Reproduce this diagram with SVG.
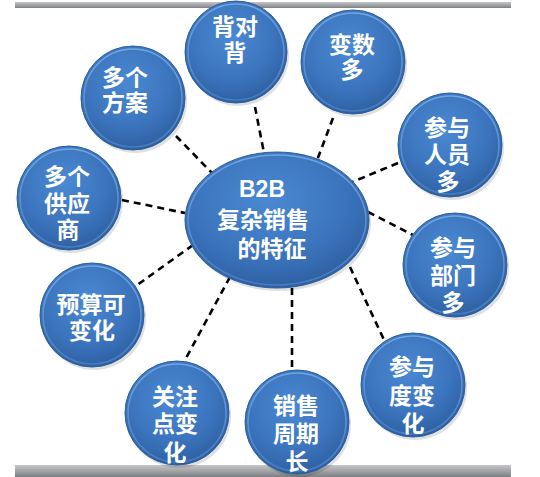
<svg xmlns="http://www.w3.org/2000/svg" width="540" height="477" viewBox="0 0 540 477">
<defs>
<linearGradient id="bar" x1="0" y1="0" x2="0" y2="1">
<stop offset="0" stop-color="#c4c6c8"/>
<stop offset="0.5" stop-color="#a2a4a7"/>
<stop offset="1" stop-color="#7d8083"/>
</linearGradient>
<radialGradient id="ball" cx="0.45" cy="0.35" r="0.7">
<stop offset="0" stop-color="#4a89d2"/>
<stop offset="0.6" stop-color="#3b74bd"/>
<stop offset="1" stop-color="#2b5c9c"/>
</radialGradient>
<linearGradient id="rim" x1="0" y1="0" x2="0" y2="1">
<stop offset="0" stop-color="#7fb0e8"/>
<stop offset="1" stop-color="#4c82c6"/>
</linearGradient>
</defs>
<style>
.ball{fill:url(#ball);stroke:#2d5f9e;stroke-width:1}
.rim{fill:none;stroke:url(#rim);stroke-width:1.6;opacity:0.8}
.sh{fill:#000;opacity:0.12}
.t{font-family:"Noto Sans CJK SC","Liberation Sans",sans-serif;font-weight:bold;font-size:23px;fill:#fff;text-anchor:middle}
.c{stroke:#000;stroke-width:2.6;stroke-dasharray:7 5;fill:none}
</style>
<rect x="15" y="2" width="496" height="6" fill="url(#bar)"/>
<rect x="15" y="465" width="496" height="12" fill="url(#bar)"/>
<g id="connectors">
<line class="c" x1="176" y1="136" x2="212" y2="173"/>
<line class="c" x1="255" y1="107" x2="264" y2="153"/>
<line class="c" x1="333" y1="118" x2="316" y2="163"/>
<line class="c" x1="398" y1="163" x2="350" y2="183"/>
<line class="c" x1="368" y1="212" x2="413" y2="235"/>
<line class="c" x1="350" y1="267" x2="385" y2="342"/>
<line class="c" x1="292" y1="288" x2="292" y2="368"/>
<line class="c" x1="230" y1="277" x2="185" y2="360"/>
<line class="c" x1="193" y1="245" x2="133" y2="288"/>
<line class="c" x1="122" y1="200" x2="185" y2="213"/>
</g>
<g id="center">
<ellipse class="sh" cx="279" cy="223" rx="92" ry="68"/>
<ellipse class="ball" cx="277" cy="220" rx="92" ry="68"/>
<ellipse class="rim" cx="277" cy="220" rx="89" ry="65"/>
<text class="t" x="262" y="197" style="font-family:'Liberation Sans','Noto Sans CJK SC',sans-serif">B2B</text>
<text class="t" x="263" y="228">复杂销售</text>
<text class="t" x="272" y="257">的特征</text>
</g>
<g id="n-beiduibei">
<circle class="sh" cx="238" cy="55" r="51"/>
<circle class="ball" cx="236" cy="52" r="51"/>
<circle class="rim" cx="236" cy="52" r="48"/>
<text class="t" x="235" y="35">背对</text>
<text class="t" x="235" y="61">背</text>
</g>
<g id="n-bianshuduo">
<circle class="sh" cx="355" cy="65" r="52"/>
<circle class="ball" cx="353" cy="62" r="52"/>
<circle class="rim" cx="353" cy="62" r="49"/>
<text class="t" x="352" y="53">变数</text>
<text class="t" x="352" y="78">多</text>
</g>
<g id="n-duogefangan">
<circle class="sh" cx="135" cy="101" r="52"/>
<circle class="ball" cx="133" cy="98" r="52"/>
<circle class="rim" cx="133" cy="98" r="49"/>
<text class="t" x="125" y="86">多个</text>
<text class="t" x="125" y="111">方案</text>
</g>
<g id="n-canyurenyuan">
<circle class="sh" cx="452" cy="148" r="52"/>
<circle class="ball" cx="450" cy="145" r="52"/>
<circle class="rim" cx="450" cy="145" r="49"/>
<text class="t" x="447" y="136">参与</text>
<text class="t" x="447" y="163">人员</text>
<text class="t" x="448" y="190">多</text>
</g>
<g id="n-gongyingshang">
<circle class="sh" cx="71" cy="201" r="52"/>
<circle class="ball" cx="69" cy="198" r="52"/>
<circle class="rim" cx="69" cy="198" r="49"/>
<text class="t" x="67" y="185">多个</text>
<text class="t" x="67" y="212">供应</text>
<text class="t" x="68" y="238">商</text>
</g>
<g id="n-canyubumen">
<circle class="sh" cx="457" cy="268" r="52"/>
<circle class="ball" cx="455" cy="265" r="52"/>
<circle class="rim" cx="455" cy="265" r="49"/>
<text class="t" x="453" y="256">参与</text>
<text class="t" x="453" y="284">部门</text>
<text class="t" x="453" y="311">多</text>
</g>
<g id="n-yusuan">
<circle class="sh" cx="94" cy="318" r="52"/>
<circle class="ball" cx="92" cy="315" r="52"/>
<circle class="rim" cx="92" cy="315" r="49"/>
<text class="t" x="91" y="313">预算可</text>
<text class="t" x="92" y="339">变化</text>
</g>
<g id="n-guanzhudian">
<circle class="sh" cx="179" cy="416" r="52"/>
<circle class="ball" cx="177" cy="413" r="52"/>
<circle class="rim" cx="177" cy="413" r="49"/>
<text class="t" x="175" y="405">关注</text>
<text class="t" x="175" y="432">点变</text>
<text class="t" x="175" y="461">化</text>
</g>
<g id="n-zhouqi">
<circle class="sh" cx="299" cy="425" r="52"/>
<circle class="ball" cx="297" cy="422" r="52"/>
<circle class="rim" cx="297" cy="422" r="49"/>
<text class="t" x="296" y="414">销售</text>
<text class="t" x="296" y="442">周期</text>
<text class="t" x="297" y="470">长</text>
</g>
<g id="n-canyudu">
<circle class="sh" cx="415" cy="388" r="52"/>
<circle class="ball" cx="413" cy="385" r="52"/>
<circle class="rim" cx="413" cy="385" r="49"/>
<text class="t" x="412" y="375">参与</text>
<text class="t" x="412" y="404">度变</text>
<text class="t" x="413" y="432">化</text>
</g>
</svg>
